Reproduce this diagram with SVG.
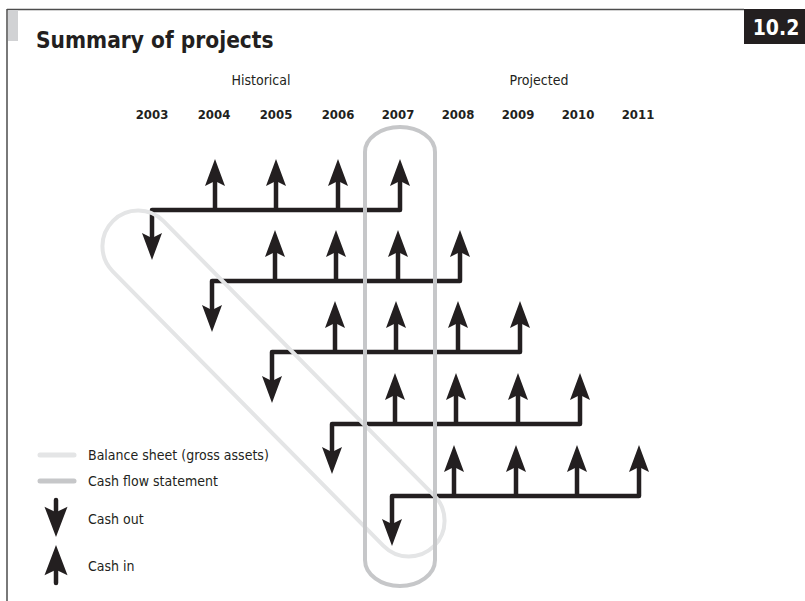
<svg xmlns="http://www.w3.org/2000/svg" width="805" height="601" viewBox="0 0 805 601">
<style>
text{font-family:"Liberation Sans Narrow","DejaVu Sans Condensed","Roboto",sans-serif;fill:#231f20}
.title{font-size:22.5px;font-weight:bold}
.hdr{font-size:14px}
.yr{font-size:13px;font-weight:bold;text-anchor:middle}
.leg{font-size:14px}
.flow{fill:none;stroke:#231f20;stroke-width:4.5;stroke-linejoin:round}
.head{fill:#231f20}
.bs{fill:none;stroke:#e4e5e6;stroke-width:4}
.cf{fill:none;stroke:#c6c7c9;stroke-width:4}
</style>
<defs>
<path id="up" d="M0,0 L10,27 L0,22 L-10,27 Z"/>
<path id="down" d="M0,0 L10,-27 L0,-22 L-10,-27 Z"/>
</defs>
<rect width="805" height="601" fill="#fff"/>
<g id="frame">
<path d="M7,9.5 H744 M7,9 V601" fill="none" stroke="#4d4d4d" stroke-width="1.5"/>
<rect x="8" y="10" width="10" height="31" fill="#d1d2d4"/>
<text class="title" x="36" y="48">Summary of projects</text>
<rect x="744" y="9" width="61" height="35" fill="#231f20"/>
<text x="776" y="35" style="font-size:21px;font-weight:bold;fill:#fff;text-anchor:middle">10.2</text>
</g>
<g id="axis">
<text class="hdr" x="261" y="85" text-anchor="middle">Historical</text>
<text class="hdr" x="539" y="85" text-anchor="middle">Projected</text>
<text class="yr" x="152" y="119">2003</text>
<text class="yr" x="214" y="119">2004</text>
<text class="yr" x="276" y="119">2005</text>
<text class="yr" x="338" y="119">2006</text>
<text class="yr" x="398" y="119">2007</text>
<text class="yr" x="458" y="119">2008</text>
<text class="yr" x="518" y="119">2009</text>
<text class="yr" x="578" y="119">2010</text>
<text class="yr" x="638" y="119">2011</text>
</g>
<g id="project-1">
<path class="flow" d="M152,238 V210 H400 V180 M215,210 V180 M276,210 V180 M338,210 V180"/>
<use href="#down" class="head" x="152" y="260"/>
<use href="#up" class="head" x="215" y="159"/><use href="#up" class="head" x="276" y="159"/><use href="#up" class="head" x="338" y="159"/><use href="#up" class="head" x="400" y="159"/>
</g>
<g id="project-2">
<path class="flow" d="M212,310 V281 H460 V252 M275,281 V252 M336,281 V252 M398,281 V252"/>
<use href="#down" class="head" x="212" y="332"/>
<use href="#up" class="head" x="275" y="230"/><use href="#up" class="head" x="336" y="230"/><use href="#up" class="head" x="398" y="230"/><use href="#up" class="head" x="460" y="230"/>
</g>
<g id="project-3">
<path class="flow" d="M272,381 V352 H520 V323 M335,352 V323 M396,352 V323 M458,352 V323"/>
<use href="#down" class="head" x="272" y="403"/>
<use href="#up" class="head" x="335" y="301"/><use href="#up" class="head" x="396" y="301"/><use href="#up" class="head" x="458" y="301"/><use href="#up" class="head" x="520" y="301"/>
</g>
<g id="project-4">
<path class="flow" d="M332,452 V424 H580 V395 M395,424 V395 M456,424 V395 M518,424 V395"/>
<use href="#down" class="head" x="332" y="474"/>
<use href="#up" class="head" x="395" y="373"/><use href="#up" class="head" x="456" y="373"/><use href="#up" class="head" x="518" y="373"/><use href="#up" class="head" x="580" y="373"/>
</g>
<g id="project-5">
<path class="flow" d="M392,524 V496 H639 V467 M454,496 V467 M516,496 V467 M577,496 V467"/>
<use href="#down" class="head" x="392" y="546"/>
<use href="#up" class="head" x="454" y="445"/><use href="#up" class="head" x="516" y="445"/><use href="#up" class="head" x="577" y="445"/><use href="#up" class="head" x="639" y="445"/>
</g>
<g id="connectors">
<rect id="balance-sheet" class="bs" x="-228.5" y="-35.7" width="457" height="71.4" rx="35.7" transform="translate(273.5,383.5) rotate(45.4)"/>
<path id="cash-flow" class="cf" d="M365,152 A35,25 0 0 1 435,152 V560 A35,26 0 0 1 365,560 Z"/>
</g>
<g id="legend">
<line x1="40" y1="455" x2="74" y2="455" stroke="#e4e5e6" stroke-width="5" stroke-linecap="round"/>
<line x1="40" y1="481" x2="74" y2="481" stroke="#c6c7c9" stroke-width="5" stroke-linecap="round"/>
<text class="leg" x="88" y="460">Balance sheet (gross assets)</text>
<text class="leg" x="88" y="486">Cash flow statement</text>
<line x1="56" y1="500" x2="56" y2="515" stroke="#231f20" stroke-width="4.5" stroke-linecap="round"/>
<use href="#down" class="head" transform="translate(56,537) scale(1.15,1.12)"/>
<text class="leg" x="88" y="524">Cash out</text>
<line x1="56" y1="565" x2="56" y2="583" stroke="#231f20" stroke-width="4.5" stroke-linecap="round"/>
<use href="#up" class="head" transform="translate(56,545) scale(1.15,1.12)"/>
<text class="leg" x="88" y="571">Cash in</text>
</g>
</svg>
